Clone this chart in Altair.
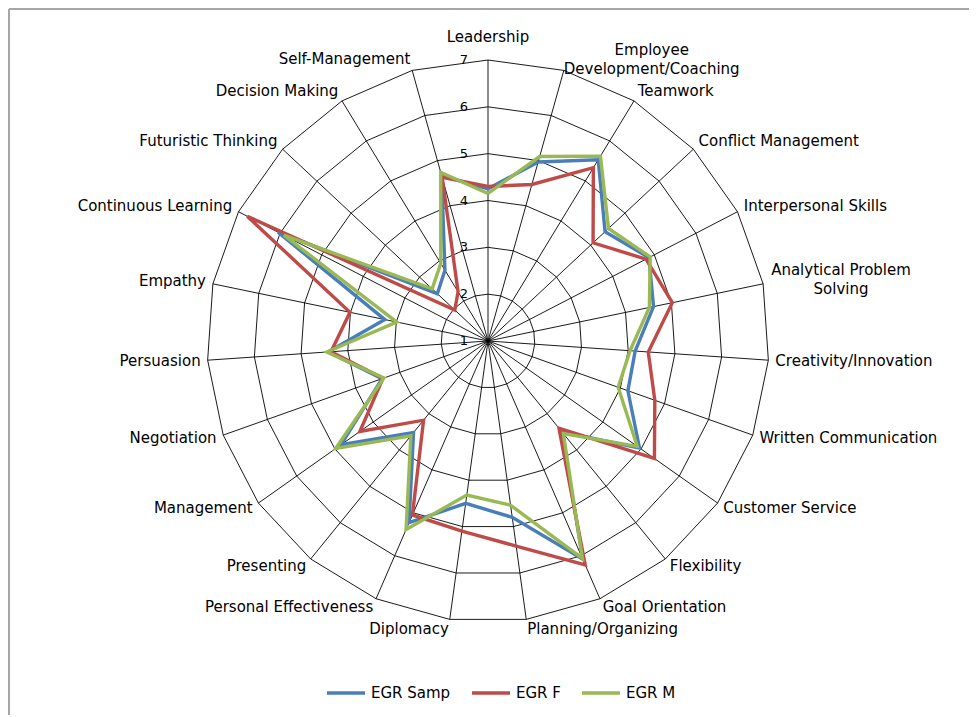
import altair as alt
import pandas as pd

categories = ["Leadership", "Employee\nDevelopment/Coaching", "Teamwork", "Conflict Management",
              "Interpersonal Skills", "Analytical Problem\nSolving", "Creativity/Innovation",
              "Written Communication", "Customer Service", "Flexibility", "Goal Orientation",
              "Planning/Organizing", "Diplomacy", "Personal Effectiveness", "Presenting",
              "Management", "Negotiation", "Persuasion", "Empathy", "Continuous Learning",
              "Futuristic Thinking", "Decision Making", "Self-Management"]

egr_samp = [4.25, 4.97, 5.53, 4.42, 4.87, 4.61, 4.15, 4.17, 4.96, 3.50, 6.08, 4.80, 4.50,
            5.23, 3.52, 4.84, 3.40, 4.42, 3.25, 6.05, 2.48, 2.77, 4.67]
egr_f = [4.30, 4.47, 5.33, 4.07, 4.80, 5.02, 4.43, 4.78, 5.35, 3.40, 6.21, 5.42, 5.10,
         5.05, 3.18, 4.35, 3.38, 4.36, 4.01, 6.79, 1.97, 2.23, 4.63]
egr_m = [4.15, 5.09, 5.62, 4.52, 4.90, 4.52, 4.04, 3.95, 4.90, 3.55, 6.06, 4.54, 4.32,
         5.39, 3.61, 4.98, 3.36, 4.45, 2.99, 5.91, 2.63, 2.94, 4.74]

series_names = ["EGR Samp", "EGR F", "EGR M"]
series_colors = ["#4A7EBB", "#BE4B48", "#98B954"]
levels = [1, 2, 3, 4, 5, 6, 7]

N = len(categories)
FONT = "DejaVu Sans"
FS = 15

# ---- tables built from the arrays ----
rows = []
for name, vals in zip(series_names, [egr_samp, egr_f, egr_m]):
    for k in range(N + 1):
        rows.append({"series": name, "idx": k, "value": vals[k % N]})
series_df = pd.DataFrame(rows)

grid_df = pd.DataFrame([{"level": lv, "idx": k} for lv in levels[1:] for k in range(N + 1)])
spoke_df = pd.DataFrame({"idx": list(range(N))})
label_df = pd.DataFrame({"idx": list(range(N)), "label": categories})
tick_df = pd.DataFrame({"level": levels, "txt": [str(v) for v in levels]})

ANG = f"datum.idx * 2 * PI / {N}"
xs = alt.Scale(domain=[-6, 6], nice=False, zero=False)
ys = alt.Scale(domain=[-6, 6], nice=False, zero=False)


def X(f):
    return alt.X(f, type="quantitative", scale=xs, axis=None)


def Y(f):
    return alt.Y(f, type="quantitative", scale=ys, axis=None)


grid = alt.Chart(grid_df).transform_calculate(
    a=ANG
).transform_calculate(
    gx="(datum.level - 1) * sin(datum.a)", gy="(datum.level - 1) * cos(datum.a)"
).mark_line(color="#000000", strokeWidth=0.9).encode(
    x=X("gx"), y=Y("gy"), detail="level:N", order="idx:Q"
)

spokes = alt.Chart(spoke_df).transform_calculate(
    a=ANG
).transform_calculate(
    sx="6 * sin(datum.a)", sy="6 * cos(datum.a)", ox="0", oy="0"
).mark_rule(color="#000000", strokeWidth=0.9).encode(
    x=X("ox"), y=Y("oy"), x2="sx:Q", y2="sy:Q"
)

lines = alt.Chart(series_df).transform_calculate(
    a=ANG
).transform_calculate(
    px="(datum.value - 1) * sin(datum.a)", py="(datum.value - 1) * cos(datum.a)"
).mark_line(strokeWidth=3.4, strokeJoin="miter").encode(
    x=X("px"), y=Y("py"),
    color=alt.Color("series:N", sort=series_names,
                    scale=alt.Scale(domain=series_names, range=series_colors),
                    legend=alt.Legend(title=None, orient="none", direction="horizontal",
                                      legendX=118, legendY=612, symbolType="stroke",
                                      symbolSize=1444, symbolStrokeWidth=3.5,
                                      labelFont=FONT, labelFontSize=FS, labelColor="#000000",
                                      labelOffset=4, columnPadding=14)),
    order="idx:Q",
)

lab_base = alt.Chart(label_df).transform_calculate(
    a=ANG
).transform_calculate(
    sa="sin(datum.a)",
    lx="6.15 * sin(datum.a)",
    ly="cos(datum.a) > 0 ? 6.25 * cos(datum.a) : 6.2 * cos(datum.a)"
)
txt = dict(font=FONT, fontSize=FS, color="#000000", lineBreak="\n", lineHeight=19)
lab_left = lab_base.transform_filter("datum.sa > 0.05 && datum.idx != 1 && datum.idx != 5").mark_text(
    align="left", baseline="middle", **txt).encode(x=X("lx"), y=Y("ly"), text="label:N")
lab_right = lab_base.transform_filter("datum.sa < -0.05").mark_text(
    align="right", baseline="middle", **txt).encode(x=X("lx"), y=Y("ly"), text="label:N")
lab_center = lab_base.transform_filter("abs(datum.sa) <= 0.05").mark_text(
    align="center", baseline="bottom", dy=-3, **txt).encode(x=X("lx"), y=Y("ly"), text="label:N")
lab_emp = lab_base.transform_filter("datum.idx == 1").mark_text(
    align="center", baseline="middle", dx=86, dy=-9.5, **txt).encode(x=X("lx"), y=Y("ly"), text="label:N")
lab_ana = lab_base.transform_filter("datum.idx == 5").mark_text(
    align="center", baseline="middle", dx=71, dy=-11.5, **txt).encode(x=X("lx"), y=Y("ly"), text="label:N")

ticks = alt.Chart(tick_df).transform_calculate(
    tx="0", ty="datum.level - 1"
).mark_text(align="right", baseline="middle", dx=-20, font=FONT, fontSize=13, color="#000000").encode(
    x=X("tx"), y=Y("ty"), text="txt:N"
)

frame_df = pd.DataFrame({"k": [0]})
frame_left = alt.Chart(frame_df).mark_rule(color="#a6a6a6", strokeWidth=2).encode(
    x=alt.value(-198), y=alt.value(-51), y2=alt.value(720))
frame_top = alt.Chart(frame_df).mark_rule(color="#a6a6a6", strokeWidth=2).encode(
    x=alt.value(-198), x2=alt.value(800), y=alt.value(-51))

chart = alt.layer(
    frame_left, frame_top, grid, spokes, lines, ticks,
    lab_left, lab_right, lab_center, lab_emp, lab_ana
).properties(
    width=562, height=562,
    padding={"left": 199, "top": 52, "right": 200, "bottom": 93},
    autosize=alt.AutoSizeParams(type="none"),
    background="white",
).configure_view(stroke=None)

chart.save("out.html", embed_options={"renderer": "svg", "actions": False})
